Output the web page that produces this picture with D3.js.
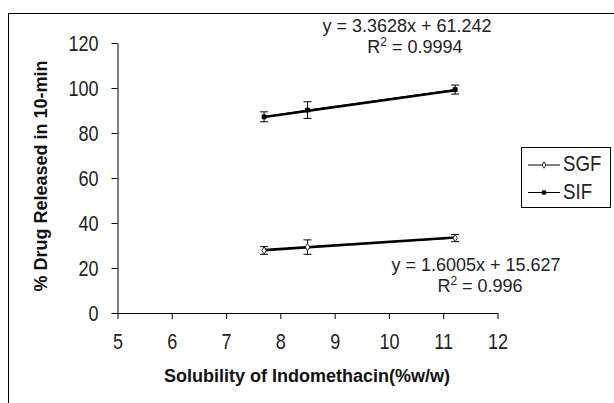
<!DOCTYPE html>
<html>
<head>
<meta charset="utf-8">
<script src="https://cdn.jsdelivr.net/npm/d3@7/dist/d3.min.js"></script>
<style>
  body { margin: 0; background: #fff; }
  svg { display: block; font-family: "Liberation Sans", Arial, sans-serif; }
</style>
</head>
<body>
<div id="chart"></div>
<script>
// solubility values (x) shared by both series
const solubility = [7.7, 8.5, 11.22];

// % drug released in 10 min, with error bars
const sgfValues = [27.8, 29.3, 33.3];
const sgfErrors = [1.7, 3.2, 1.6];
const sifValues = [87.2, 90.2, 99.3];
const sifErrors = [2.2, 3.7, 2.0];

// trendline coefficients as printed on the chart
const sgfFit = { slope: 1.6005, intercept: 15.627, eq: "y = 1.6005x + 15.627", r2: "0.996" };
const sifFit = { slope: 3.3628, intercept: 61.242, eq: "y = 3.3628x + 61.242", r2: "0.9994" };

const xTicks = [5, 6, 7, 8, 9, 10, 11, 12];
const yTicks = [0, 20, 40, 60, 80, 100, 120];

const width = 614, height = 403;
const plotLeft = 117.5, plotRight = 497.5, plotTop = 43, plotBottom = 313;

const svg = d3.select("#chart").append("svg")
    .attr("width", width)
    .attr("height", height);

// squeeze text horizontally (the original uses a narrow face)
function narrowText(sel, k) {
    sel.each(function () {
        const w = this.getComputedTextLength();
        d3.select(this)
            .attr("textLength", w * k)
            .attr("lengthAdjust", "spacingAndGlyphs");
    });
}

// outer chart border (runs off the right/bottom edge)
svg.append("rect")
    .attr("x", 8.5).attr("y", 13.5)
    .attr("width", 620).attr("height", 400)
    .attr("fill", "#fff")
    .attr("stroke", "#000")
    .attr("stroke-width", 1);

const x = d3.scaleLinear().domain([5, 12]).range([plotLeft, plotRight]);
const y = d3.scaleLinear().domain([0, 120]).range([plotBottom, plotTop]);

// axes
const xAxis = svg.append("g")
    .attr("transform", `translate(0,${plotBottom})`)
    .call(d3.axisBottom(x).tickValues(xTicks).tickFormat(d3.format("d"))
        .tickSize(6).tickPadding(14).tickSizeOuter(0));
const yAxis = svg.append("g")
    .attr("transform", `translate(${plotLeft},0)`)
    .call(d3.axisLeft(y).tickValues(yTicks).tickFormat(d3.format("d"))
        .tickSize(6).tickPadding(13).tickSizeOuter(0));

[xAxis, yAxis].forEach(g => {
    g.select(".domain").attr("stroke", "#000");
    g.selectAll(".tick line").attr("stroke", "#000");
    g.selectAll(".tick text")
        .attr("fill", "#222")
        .style("font-size", "22px")
        .call(narrowText, 0.82);
});
yAxis.selectAll(".tick text").attr("dy", "0.36em");

// axis titles
svg.append("text")
    .attr("x", 307).attr("y", 382)
    .attr("text-anchor", "middle")
    .style("font-size", "18px")
    .style("font-weight", "bold")
    .attr("fill", "#111")
    .text("Solubility of Indomethacin(%w/w)");

svg.append("text")
    .attr("transform", "translate(47,176) rotate(-90)")
    .attr("text-anchor", "middle")
    .style("font-size", "18px")
    .style("font-weight", "bold")
    .attr("fill", "#111")
    .text("% Drug Released in 10-min");

function drawSeries(values, errors, fit, marker) {
    const pts = solubility.map((s, i) => ({ x: s, y: values[i], e: errors[i] }));
    const g = svg.append("g");

    // series line
    g.append("path")
        .datum(pts)
        .attr("fill", "none")
        .attr("stroke", "#000")
        .attr("stroke-width", 1)
        .attr("d", d3.line().x(d => x(d.x)).y(d => y(d.y)));

    // linear trendline
    const x0 = d3.min(solubility), x1 = d3.max(solubility);
    g.append("line")
        .attr("x1", x(x0)).attr("y1", y(fit.slope * x0 + fit.intercept))
        .attr("x2", x(x1)).attr("y2", y(fit.slope * x1 + fit.intercept))
        .attr("stroke", "#000")
        .attr("stroke-width", 2.6);

    // error bars
    const eb = g.selectAll(".err").data(pts).enter().append("g");
    eb.append("line")
        .attr("x1", d => x(d.x)).attr("x2", d => x(d.x))
        .attr("y1", d => y(d.y - d.e)).attr("y2", d => y(d.y + d.e))
        .attr("stroke", "#000");
    [1, -1].forEach(sign => {
        eb.append("line")
            .attr("x1", d => x(d.x) - 4).attr("x2", d => x(d.x) + 4)
            .attr("y1", d => y(d.y + sign * d.e)).attr("y2", d => y(d.y + sign * d.e))
            .attr("stroke", "#000");
    });

    // markers
    g.selectAll(".mk").data(pts).enter().append("path")
        .attr("transform", d => `translate(${x(d.x)},${y(d.y)})`)
        .attr("d", marker === "diamond"
            ? d3.symbol().type(d3.symbolDiamond).size(16)
            : d3.symbol().type(d3.symbolSquare).size(16))
        .attr("fill", marker === "diamond" ? "#fff" : "#000")
        .attr("stroke", "#000")
        .attr("stroke-width", 0.8);
}

drawSeries(sgfValues, sgfErrors, sgfFit, "diamond");
drawSeries(sifValues, sifErrors, sifFit, "square");

// equation labels
function fitLabel(fit, eqX, eqY, rX, rY) {
    const t = svg.append("g").attr("fill", "#222").style("font-size", "18px");
    t.append("text")
        .attr("x", eqX).attr("y", eqY)
        .attr("text-anchor", "middle")
        .text(fit.eq);
    const r = t.append("text")
        .attr("x", rX).attr("y", rY)
        .attr("text-anchor", "middle");
    r.append("tspan").text("R");
    r.append("tspan").attr("dy", -7).style("font-size", "12px").text("2");
    r.append("tspan").attr("dy", 7).text(" = " + fit.r2);
}
fitLabel(sifFit, 407, 32, 415, 53);
fitLabel(sgfFit, 476, 271, 480, 292);

// legend
const legend = svg.append("g");
legend.append("rect")
    .attr("x", 521.5).attr("y", 147.5)
    .attr("width", 89).attr("height", 60)
    .attr("fill", "#fff")
    .attr("stroke", "#000");
const items = [{ name: "SGF", marker: "diamond" }, { name: "SIF", marker: "square" }];
items.forEach((it, i) => {
    const cy = 165 + i * 27.5;
    legend.append("line")
        .attr("x1", 528).attr("x2", 560)
        .attr("y1", cy).attr("y2", cy)
        .attr("stroke", "#000");
    legend.append("path")
        .attr("transform", `translate(544,${cy})`)
        .attr("d", d3.symbol().type(it.marker === "diamond" ? d3.symbolDiamond : d3.symbolSquare).size(12))
        .attr("fill", it.marker === "diamond" ? "#fff" : "#000")
        .attr("stroke", "#000")
        .attr("stroke-width", 0.8);
    legend.append("text")
        .attr("x", 563).attr("y", cy + 6)
        .attr("fill", "#222")
        .style("font-size", "22px")
        .text(it.name)
        .call(narrowText, 0.85);
});
</script>
</body>
</html>
